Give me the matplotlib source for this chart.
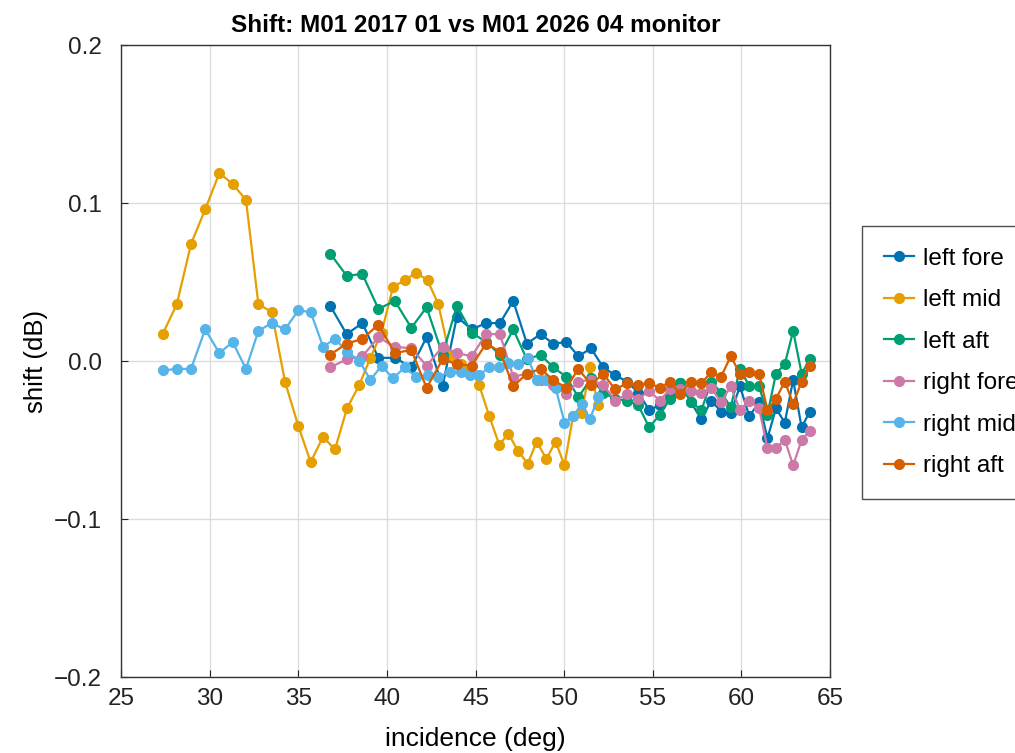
import numpy as np
import matplotlib
matplotlib.use("Agg")
import matplotlib.pyplot as plt

# incidence angles (deg) for the mid beams and for the fore/aft beams
mid_inc = [27.35, 28.15, 28.95, 29.75, 30.55, 31.3, 32.05, 32.75, 33.5, 34.25,
           35.0, 35.7, 36.4, 37.07, 37.75, 38.45, 39.07, 39.7, 40.35, 41.0,
           41.65, 42.3, 42.9, 43.55, 44.2, 44.7, 45.2, 45.78, 46.34, 46.86,
           47.4, 47.95, 48.45, 49.0, 49.52, 50.02, 50.5, 51.0, 51.45, 51.92]
fa_inc = [36.8, 37.73, 38.62, 39.52, 40.45, 41.38, 42.24, 43.14, 43.95, 44.78,
          45.6, 46.38, 47.13, 47.9, 48.67, 49.38, 50.13, 50.8, 51.52, 52.2,
          52.88, 53.55, 54.18, 54.8, 55.4, 55.97, 56.55, 57.15, 57.75, 58.3,
          58.85, 59.4, 59.92, 60.45, 61.0, 61.47, 61.95, 62.45, 62.92, 63.4, 63.86]

left_mid = [0.017, 0.036, 0.074, 0.096, 0.119, 0.112, 0.102, 0.036, 0.031, -0.013,
            -0.041, -0.064, -0.048, -0.056, -0.030, -0.015, 0.002, 0.018, 0.047, 0.051,
            0.056, 0.051, 0.036, 0.003, -0.002, -0.005, -0.015, -0.035, -0.053, -0.046,
            -0.057, -0.065, -0.051, -0.062, -0.051, -0.066, -0.035, -0.033, -0.004, -0.028]
right_mid = [-0.006, -0.005, -0.005, 0.020, 0.005, 0.012, -0.005, 0.019, 0.024, 0.020,
             0.032, 0.031, 0.009, 0.014, 0.006, 0.000, -0.012, -0.003, -0.011, -0.004,
             -0.010, -0.009, -0.010, -0.007, -0.007, -0.009, -0.009, -0.004, -0.004, -0.001,
             -0.002, 0.002, -0.012, -0.012, -0.017, -0.039, -0.035, -0.027, -0.037, -0.023]

left_fore = [0.035, 0.017, 0.024, 0.002, 0.002, -0.004, 0.015, -0.016, 0.028, 0.020,
             0.024, 0.024, 0.038, 0.011, 0.017, 0.011, 0.012, 0.003, 0.008, -0.004,
             -0.009, -0.013, -0.020, -0.031, -0.028, -0.022, -0.014, -0.026, -0.037, -0.025,
             -0.032, -0.033, -0.016, -0.035, -0.026, -0.049, -0.030, -0.039, -0.012, -0.042, -0.032]
left_aft = [0.068, 0.054, 0.055, 0.033, 0.038, 0.021, 0.034, 0.004, 0.035, 0.018,
            0.012, 0.004, 0.020, 0.001, 0.004, -0.004, -0.010, -0.023, -0.011, -0.020,
            -0.024, -0.025, -0.028, -0.042, -0.034, -0.024, -0.014, -0.026, -0.031, -0.013,
            -0.020, -0.029, -0.005, -0.016, -0.016, -0.034, -0.008, -0.002, 0.019, -0.008, 0.001]
right_fore = [-0.004, 0.001, 0.003, 0.015, 0.009, 0.008, -0.003, 0.009, 0.005, 0.003,
              0.017, 0.017, -0.010, -0.008, -0.012, -0.015, -0.021, -0.013, -0.012, -0.015,
              -0.025, -0.021, -0.024, -0.019, -0.025, -0.018, -0.018, -0.019, -0.020, -0.017,
              -0.026, -0.016, -0.031, -0.025, -0.030, -0.055, -0.055, -0.050, -0.066, -0.050, -0.044]
right_aft = [0.004, 0.011, 0.014, 0.023, 0.005, 0.007, -0.017, 0.001, -0.002, -0.003,
             0.011, 0.006, -0.016, -0.008, -0.005, -0.012, -0.017, -0.005, -0.015, -0.008,
             -0.018, -0.014, -0.015, -0.014, -0.017, -0.013, -0.021, -0.013, -0.014, -0.007,
             -0.010, 0.003, -0.008, -0.007, -0.008, -0.031, -0.024, -0.013, -0.027, -0.013, -0.003]

plt.rcParams["font.family"] = ["Liberation Sans", "DejaVu Sans"]

fig = plt.figure(figsize=(10.15, 7.53), dpi=100)
ax = fig.add_axes([121 / 1015, 1 - 677 / 753, 709 / 1015, 632 / 753])

series = [
    ("left fore", fa_inc, left_fore, "#0072B2"),
    ("left mid", mid_inc, left_mid, "#E69F00"),
    ("left aft", fa_inc, left_aft, "#009E73"),
    ("right fore", fa_inc, right_fore, "#CC79A7"),
    ("right mid", mid_inc, right_mid, "#56B4E9"),
    ("right aft", fa_inc, right_aft, "#D55E00"),
]
for name, x, y, col in series:
    ax.plot(x, y, "-o", color=col, lw=1.6, ms=7, label=name)

ax.set_xlim(25, 65)
ax.set_ylim(-0.2, 0.2)
ax.set_xticks(np.arange(25, 66, 5))
ax.set_yticks([-0.2, -0.1, 0.0, 0.1, 0.2])
ax.grid(True, color="#dcdcdc", lw=1)
ax.set_axisbelow(True)
ax.tick_params(direction="in", labelsize=17.5, length=5, colors="#222222")
ax.tick_params(axis="x", pad=8)
ax.tick_params(axis="y", pad=14)
for s in ax.spines.values():
    s.set_color("#333333")
    s.set_linewidth(1.0)

ax.set_xlabel("incidence (deg)", fontsize=19, labelpad=12)
ax.set_ylabel("shift (dB)", fontsize=18.5, labelpad=4)
ax.set_title("Shift: M01 2017 01 vs M01 2026 04 monitor", fontsize=17.5,
             fontweight="bold", pad=9)

handles, labels = ax.get_legend_handles_labels()
leg = fig.legend(handles, labels, loc="upper left",
                 bbox_to_anchor=(862 / 1015, 1 - 226 / 753),
                 fontsize=17.5, frameon=True, fancybox=False,
                 borderaxespad=0, labelspacing=0.8, handlelength=1.25,
                 borderpad=0.9, handletextpad=0.35)
leg.get_frame().set_edgecolor("#222222")
leg.get_frame().set_linewidth(1.0)

fig.savefig("out.png", dpi=100)
